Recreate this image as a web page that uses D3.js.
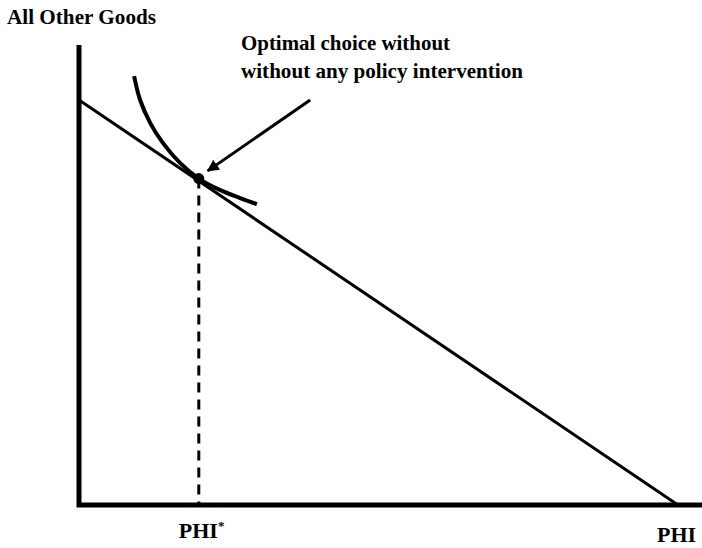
<!DOCTYPE html>
<meta charset="utf-8">
<head>
  <title>Optimal choice without policy intervention</title>
</head>

<style>
body {
  margin: 0;
  background: white;
}
text {
  font-family: "Liberation Serif", "Times New Roman", serif;
  font-weight: bold;
  fill: black;
  font-size: 22px;
}
.axis {
  stroke: black;
  stroke-width: 5;
  fill: none;
}
.budget {
  stroke: black;
  stroke-width: 3;
}
.indiff {
  stroke: black;
  stroke-width: 4;
  fill: none;
}
.drop {
  stroke: black;
  stroke-width: 3;
  stroke-dasharray: 10 7;
}
.arrow {
  stroke: black;
  stroke-width: 3;
}
</style>

<body>
  <svg width="702" height="548">
    <defs>
      <marker id="head" viewBox="0 0 10 10" refX="9" refY="5"
              markerWidth="4" markerHeight="4" orient="auto">
        <path d="M0,0 L10,5 L0,10 z" fill="black"></path>
      </marker>
    </defs>
    <g></g>
  </svg>

  <script src="https://cdnjs.cloudflare.com/ajax/libs/d3/7.8.5/d3.min.js"></script>
  <script>
// budget line: all income on one good or the other
var budgetX = [0, 100];
var budgetY = [100, 0];

// indifference curve
var curveX = [9.2, 10.2, 11.9, 14.0, 16.9, 20.0, 23.5, 26.9, 29.7];
var curveY = [105.9, 100.0, 94.3, 89.4, 84.4, 80.6, 77.8, 75.8, 74.3];

// tangency point
var optimum = [20.0, 80.6];

// arrow from the note to the optimum
var arrowFrom = [38.6, 100.0];
var arrowTo = [21.5, 82.5];

// ends of the axes
var axisMaxX = 104;
var axisMaxY = 113.6;

var yLabel = 'All Other Goods';
var xLabel = 'PHI';
var note = ['Optimal choice without', 'without any policy intervention'];
var noteWidth = [209, 282];

var x = d3.scaleLinear().domain([0, 100]).range([79, 678]);
var y = d3.scaleLinear().domain([0, 100]).range([505, 100]);

var g = d3.select('svg g');

var line = d3.line()
  .x(function(d) { return x(d[0]); })
  .y(function(d) { return y(d[1]); });

// axes
g.append('path')
  .attr('class', 'axis')
  .attr('d', line([[0, axisMaxY], [0, 0], [axisMaxX, 0]]));

// budget line
g.append('line')
  .attr('class', 'budget')
  .attr('x1', x(budgetX[0]))
  .attr('y1', y(budgetY[0]))
  .attr('x2', x(budgetX[1]))
  .attr('y2', y(budgetY[1]));

// indifference curve
g.append('path')
  .attr('class', 'indiff')
  .attr('d', line.curve(d3.curveCatmullRom)(d3.zip(curveX, curveY)));

// dashed drop to PHI*
g.append('line')
  .attr('class', 'drop')
  .attr('x1', x(optimum[0]))
  .attr('y1', y(optimum[1]))
  .attr('x2', x(optimum[0]))
  .attr('y2', y(0));

g.append('circle')
  .attr('cx', x(optimum[0]))
  .attr('cy', y(optimum[1]))
  .attr('r', 5.5);

// arrow
g.append('line')
  .attr('class', 'arrow')
  .attr('x1', x(arrowFrom[0]))
  .attr('y1', y(arrowFrom[1]))
  .attr('x2', x(arrowTo[0]))
  .attr('y2', y(arrowTo[1]))
  .attr('marker-end', 'url(#head)');

// labels
g.append('text')
  .attr('x', 7)
  .attr('y', 24)
  .attr('textLength', 149)
  .attr('lengthAdjust', 'spacingAndGlyphs')
  .text(yLabel);

g.selectAll('.note')
  .data(note)
  .enter()
  .append('text')
  .attr('class', 'note')
  .attr('x', 241)
  .attr('y', function(d, i) { return 50 + i * 28; })
  .attr('textLength', function(d, i) { return noteWidth[i]; })
  .attr('lengthAdjust', 'spacingAndGlyphs')
  .text(function(d) { return d; });

var star = g.append('text')
  .attr('x', x(optimum[0]) - 20)
  .attr('y', 538)
  .text(xLabel);
star.append('tspan')
  .attr('dy', -8)
  .style('font-size', '13px')
  .text('*');

g.append('text')
  .attr('x', 657)
  .attr('y', 542)
  .text(xLabel);
  </script>
</body>
</html>
